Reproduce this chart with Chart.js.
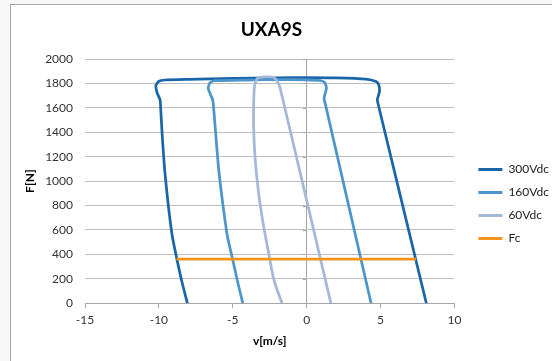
<!DOCTYPE html>
<html><head><meta charset="utf-8">
<script src="https://cdn.jsdelivr.net/npm/chart.js@4"></script>
<style>
html,body{margin:0;padding:0;background:#f8f8f8;overflow:hidden;}
#frame{position:absolute;left:10px;top:4px;width:560px;height:370px;background:#fff;border-left:1px solid #a6a6a6;border-top:1px solid #a6a6a6;}
#wrap{position:absolute;left:0;top:0;width:552px;height:361px;}
</style></head><body><div id="frame"></div><div id="wrap"><canvas id="c" width="552" height="361"></canvas></div>
<script>
const chartTitle = 'UXA9S';
const xTitle = 'v[m/s]';
const yTitle = 'F[N]';
const seriesNames = ['300Vdc', '160Vdc', '60Vdc', 'Fc'];

// 300Vdc
const v300 = [-8.07, -8.45, -8.77, -9.09, -9.38, -9.61, -9.77, -9.88, -9.92, -10.12, -10.2, -10.0, -9.6, -8, -5, -2, 0, 2, 4, 4.7, 4.88, 4.93, 4.78, 4.82, 8.1];
const f300 = [0, 180, 355, 546, 820, 1093, 1366, 1600, 1665, 1722, 1785, 1818, 1828, 1834, 1842, 1846, 1848, 1846, 1836, 1816, 1789, 1735, 1667, 1640, 0];
// 160Vdc
const v160 = [-4.32, -4.68, -5.0, -5.36, -5.68, -5.95, -6.14, -6.32, -6.36, -6.5, -6.66, -6.54, -6.2, -4, -2, 0, 0.9, 1.22, 1.34, 1.18, 1.25, 4.36];
const f160 = [0, 180, 355, 546, 820, 1093, 1366, 1636, 1667, 1707, 1762, 1806, 1822, 1828, 1832, 1830, 1824, 1808, 1762, 1680, 1639, 0];
// 60Vdc
const v60 = [-1.66, -2.0, -2.27, -2.57, -2.91, -3.25, -3.48, -3.59, -3.57, -3.5, -3.3, -2.8, -2.25, -1.95, -1.77, 1.64];
const f60 = [0, 110, 218, 410, 628, 902, 1175, 1448, 1700, 1795, 1845, 1854, 1850, 1810, 1750, 0];
// Fc
const vFc = [-8.8, 7.4];
const fFc = [360, 360];

const colors = ['#1a66a8', '#4e95cb', '#a4b8da', '#f7941d'];
const xTicks = [-15, 10, 5];   // min, max, step
const yTicks = [0, 2000, 200]; // min, max, step

const FONT = 'Lato';
const toPts = (xs, ys) => xs.map((x, i) => ({x: x, y: ys[i]}));
const seriesData = [toPts(v300, f300), toPts(v160, f160), toPts(v60, f60), toPts(vFc, fFc)];

const datasets = seriesData.map((d, i) => ({
  label: seriesNames[i],
  data: d,
  showLine: true,
  borderColor: colors[i],
  backgroundColor: colors[i],
  borderWidth: 2.75,
  pointRadius: 0,
  tension: i === 3 ? 0 : 0.2,
  fill: false,
  order: 4 - i
}));

const axisTickMarks = {
  id: 'axisTickMarks',
  beforeDatasetsDraw(chart) {
    const {ctx, scales: {x, y}} = chart;
    const x0 = x.getPixelForValue(0);
    ctx.save();
    ctx.strokeStyle = '#a6a6a6';
    ctx.lineWidth = 1;
    y.ticks.forEach(t => {
      const py = Math.round(y.getPixelForValue(t.value)) + 0.5;
      ctx.beginPath();
      ctx.moveTo(x0 - 4, py);
      ctx.lineTo(x0, py);
      ctx.stroke();
    });
    ctx.restore();
  }
};

const boxShift = {
  id: 'boxShift',
  afterLayout(chart) {
    const lg = chart.legend;
    lg.left += 13; lg.right += 13;
    lg.top += 30; lg.bottom += 30;
    const tb = chart.titleBlock;
    if (tb) { tb.left -= 11; tb.right -= 11; }
  }
};

new Chart(document.getElementById('c'), {
  type: 'scatter',
  data: {datasets},
  plugins: [axisTickMarks, boxShift],
  options: {
    responsive: false,
    animation: false,
    devicePixelRatio: 1,
    layout: {padding: {left: 19, right: 6, top: 0, bottom: 13}},
    plugins: {
      title: {
        display: true, text: chartTitle, color: '#000',
        font: {family: FONT, size: 19, weight: 'bold'},
        padding: {top: 18.6, bottom: 17.6}
      },
      legend: {
        position: 'right',
        labels: {
          boxWidth: 24, boxHeight: 3, padding: 11, color: '#222',
          font: {family: FONT, size: 12},
          generateLabels(chart) {
            return chart.data.datasets.map((ds, i) => ({
              text: ds.label, fillStyle: ds.borderColor, strokeStyle: ds.borderColor,
              lineWidth: 0, hidden: false, datasetIndex: i, fontColor: '#222'
            }));
          }
        }
      },
      tooltip: {enabled: false}
    },
    scales: {
      x: {
        type: 'linear', min: xTicks[0], max: xTicks[1],
        ticks: {stepSize: xTicks[2], color: '#333', font: {family: FONT, size: 12}, padding: 5, callback: v => String(v)},
        grid: {
          color: c => (c.tick && c.tick.value === 0) ? '#a6a6a6' : 'rgba(0,0,0,0)',
          tickColor: '#a6a6a6', tickLength: 5, drawTicks: true
        },
        border: {display: true, color: '#a6a6a6'},
        title: {display: true, text: xTitle, color: '#000', font: {family: FONT, size: 12, weight: 'bold'}, padding: {top: 1, bottom: 0}}
      },
      y: {
        type: 'linear', min: yTicks[0], max: yTicks[1],
        afterFit: axis => { axis.width = 66; },
        ticks: {stepSize: yTicks[2], color: '#333', font: {family: FONT, size: 12}, padding: 12, callback: v => String(v)},
        grid: {color: '#bfbfbf', drawTicks: false},
        border: {display: false},
        title: {display: true, text: yTitle, color: '#000', font: {family: FONT, size: 12, weight: 'bold'}, padding: {top: 4, bottom: 8}}
      }
    }
  }
});
</script></body></html>
